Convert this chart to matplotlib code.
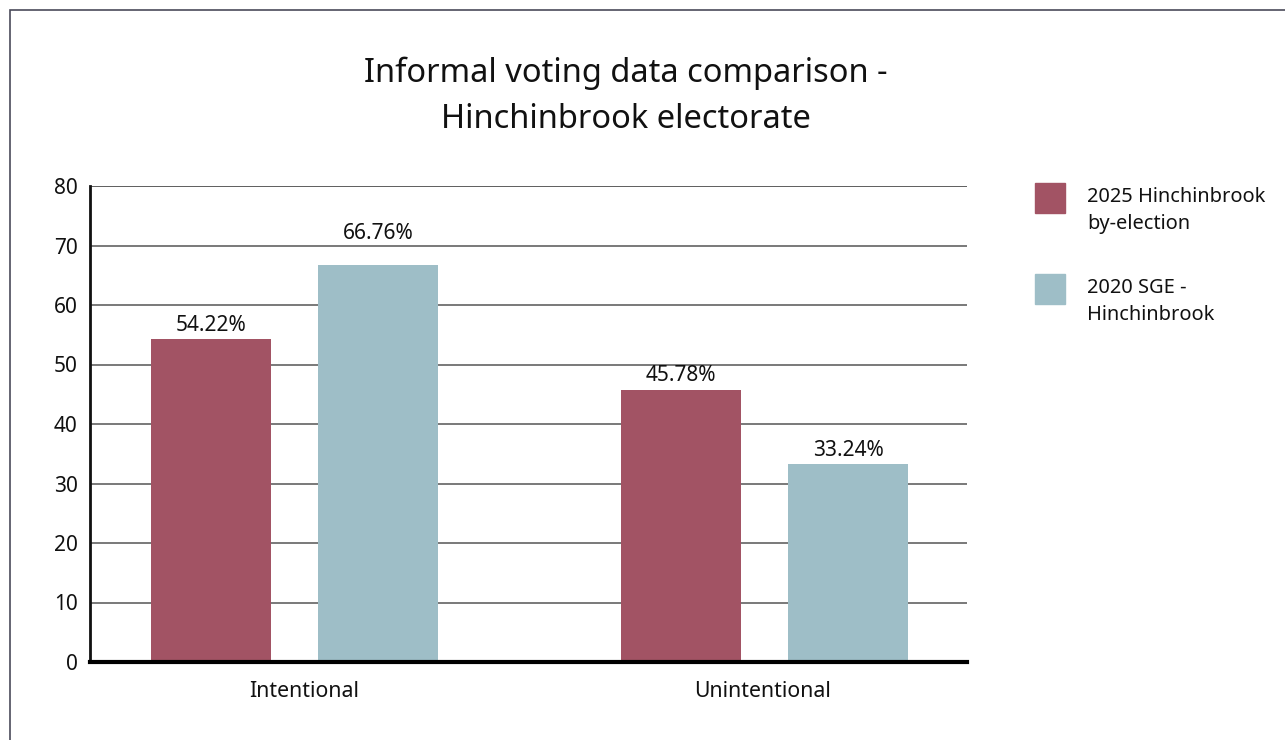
import matplotlib
matplotlib.use("Agg")
import matplotlib.pyplot as plt
from matplotlib.patches import Rectangle
import numpy as np

plt.rcParams['font.family'] = ['Noto Sans', 'DejaVu Sans']

title = "Informal voting data comparison -\nHinchinbrook electorate"
categories = ["Intentional", "Unintentional"]
series_names = ["2025 Hinchinbrook\nby-election", "2020 SGE -\nHinchinbrook"]
series_values = [
    [54.22, 45.78],
    [66.76, 33.24],
]
series_colors = ["#A25364", "#9EBEC7"]
y_ticks = [0, 10, 20, 30, 40, 50, 60, 70, 80]

W, H = 1285, 740
fig = plt.figure(figsize=(W / 100, H / 100), dpi=100)
ax = fig.add_axes([90 / W, 1 - 662 / H, (967 - 90) / W, (662 - 186) / H])

x = np.arange(len(categories))
width = 0.255
offsets = [-0.178, 0.178]
for vals, off, col in zip(series_values, offsets, series_colors):
    bars = ax.bar(x + off, vals, width=width, color=col, zorder=3)
    for b, v in zip(bars, vals):
        ytxt = v
        nxt = np.ceil(v / 10) * 10
        dy = 2.5
        if nxt - v < 4:
            ytxt = nxt
            dy = 1
        ax.annotate(f"{v:.2f}%", (b.get_x() + b.get_width() / 2, ytxt),
                    xytext=(0, dy), textcoords="offset points",
                    ha="center", va="bottom", fontsize=15, color="#111111", zorder=4)

ax.set_xlim(-0.435, 1.431)
ax.set_ylim(0, 80)
ax.set_yticks(y_ticks)
ax.set_xticks(x + np.array([0.02, -0.005]))
ax.set_xticklabels(categories)
ax.tick_params(axis='y', length=0, pad=9, labelsize=15, labelcolor="#111111")
ax.tick_params(axis='x', length=0, pad=14, labelsize=15.3, labelcolor="#111111")
for t in y_ticks[1:]:
    ax.axhline(t, color="#333333" if t == 80 else "#555555", lw=1.1, zorder=1)
for s in ["top", "right"]:
    ax.spines[s].set_visible(False)
ax.spines["left"].set_color("#111111")
ax.spines["left"].set_linewidth(2)
ax.spines["bottom"].set_color("#000000")
ax.spines["bottom"].set_linewidth(3)
ax.spines["bottom"].set_zorder(5)

fig.text(626 / W, 1 - 96.5 / H, title, ha="center", va="center", fontsize=23.5,
         color="#111111", linespacing=1.5)

# legend
leg_y = [183, 274]
for name, col, ty in zip(series_names, series_colors, leg_y):
    fig.patches.append(Rectangle((1035 / W, 1 - (ty + 30) / H), 30 / W, 30 / H,
                                 transform=fig.transFigure, color=col))
    fig.text(1087 / W, 1 - (ty + 4) / H, name, ha="left", va="top", fontsize=14.4,
             color="#111111", linespacing=1.45)

# outer border
fig.patches.append(Rectangle((9.5 / W, -0.5), 2, (1 - 9.5 / H) + 0.5,
                             transform=fig.transFigure, fill=False,
                             edgecolor="#4a4a5a", lw=1.2))

fig.savefig("out.png", dpi=100)
